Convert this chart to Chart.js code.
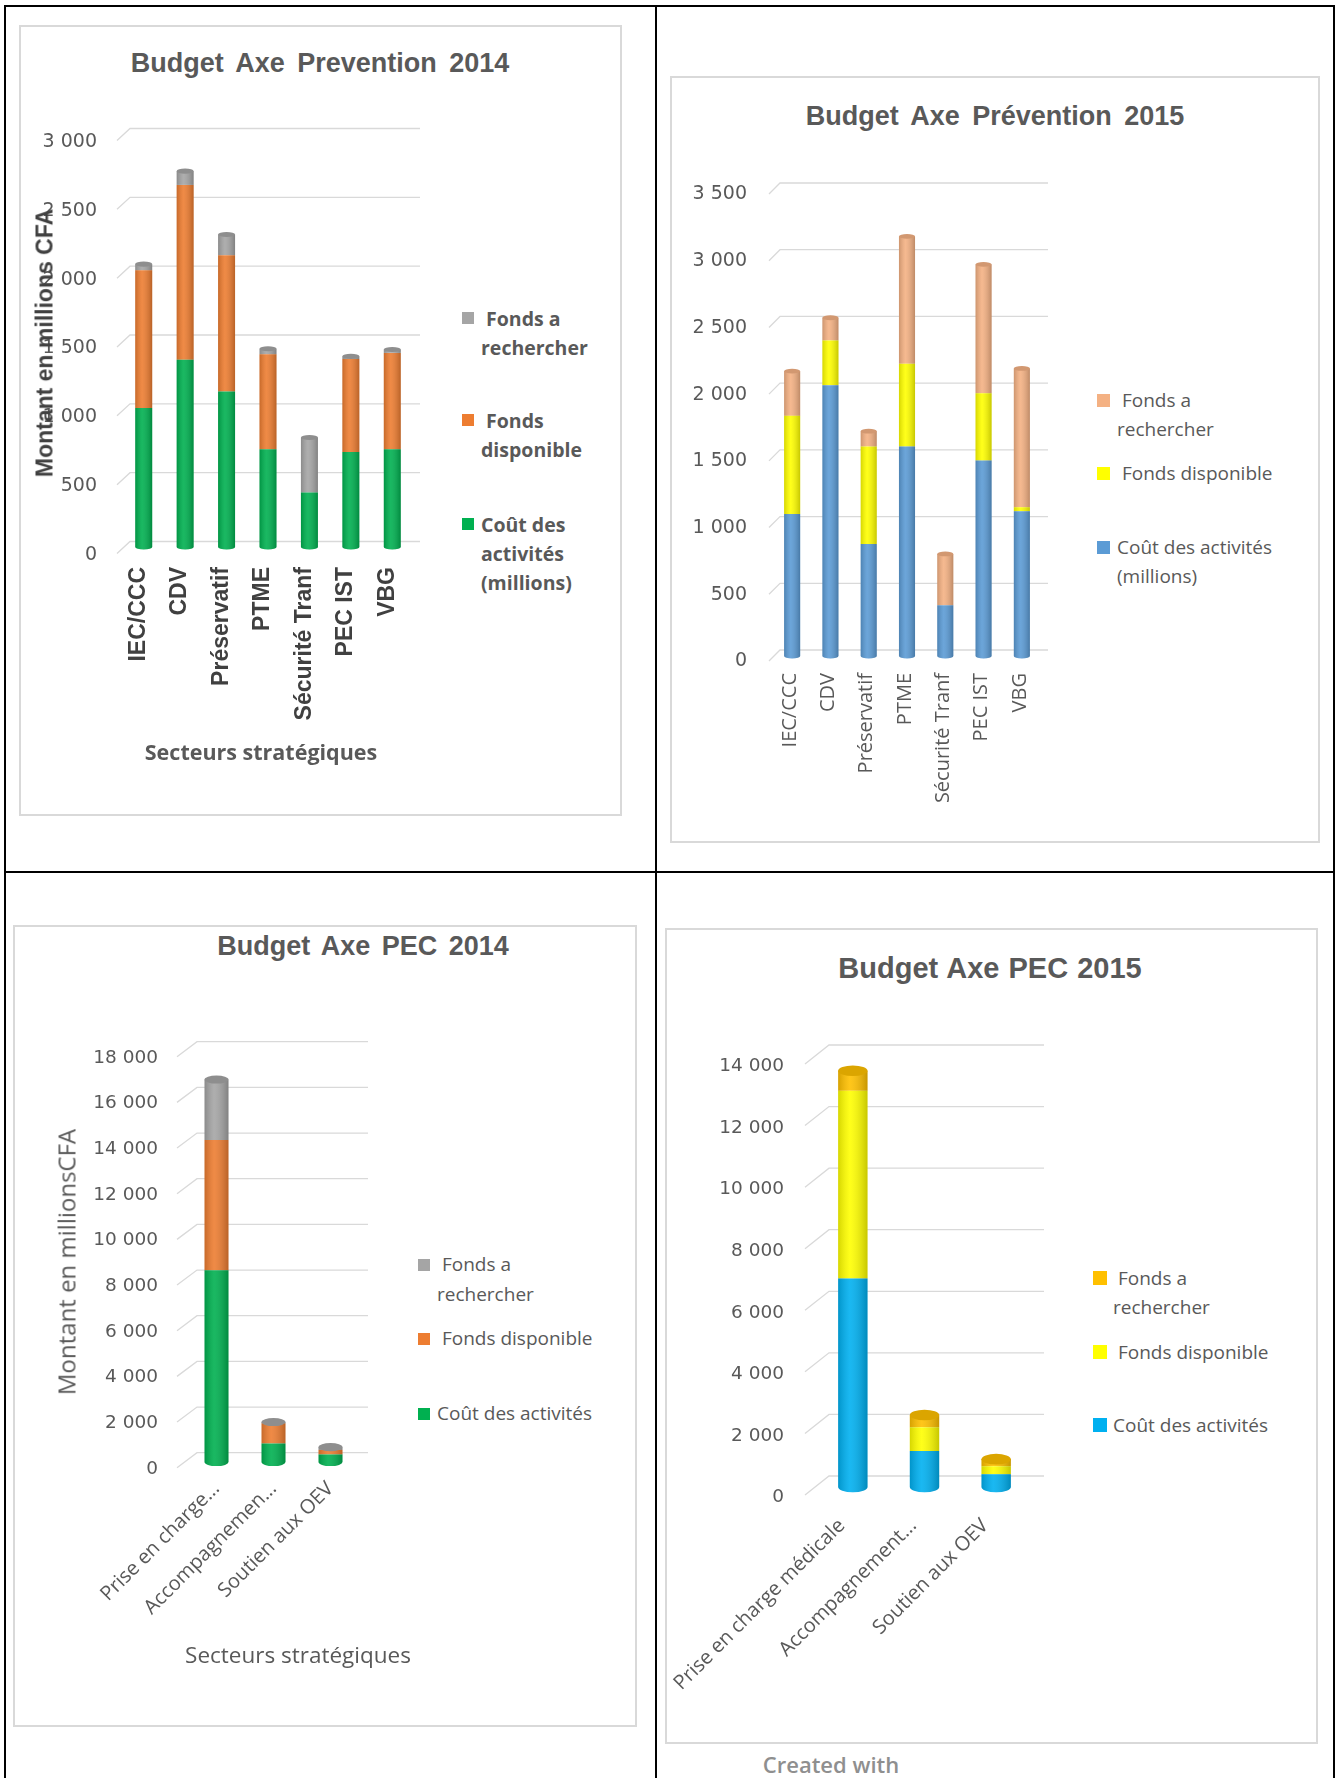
<!DOCTYPE html>
<html>
<head>
<meta charset="utf-8">
<script src="https://cdn.jsdelivr.net/npm/chart.js@4.4.1/dist/chart.umd.min.js"></script>
<style>
  body { margin: 0; width: 1340px; height: 1778px; background: #fff; position: relative; overflow: hidden;
         font-family: "Open Sans", sans-serif; color: #595959; }
  .rule { position: absolute; background: #000; }
  .box { position: absolute; border: 2px solid #d9d9d9; box-sizing: border-box; }
  canvas { position: absolute; }
  .txt { position: absolute; white-space: nowrap; z-index: 2; }
  .title { font-family: "Liberation Sans", Arial, sans-serif; font-weight: bold; color: #595959; transform: translate(-50%, -50%); }
  .vt { transform: translate(-50%, -50%) rotate(-90deg); }
  .ht { transform: translate(-50%, -50%); }
  .leg { position: absolute; white-space: pre; z-index: 2; color: #595959; }
  .leg i { position: absolute; left: 0; }
</style>
</head>
<body>
<script>
// categories
const prevCats = ["IEC/CCC", "CDV", "Préservatif", "PTME", "Sécurité Tranf", "PEC IST", "VBG"];
const pec14Cats = ["Prise en charge...", "Accompagnemen...", "Soutien aux OEV"];
const pec15Cats = ["Prise en charge médicale", "Accompagnement...", "Soutien aux OEV"];

// series names
const seriesPrev = ["Coût des activités (millions)", "Fonds disponible", "Fonds a rechercher"];
const seriesPec = ["Coût des activités", "Fonds disponible", "Fonds a rechercher"];

// Budget Axe Prevention 2014
const prev14Cout = [1010, 1360, 1130, 710, 395, 690, 710];
const prev14Dispo = [1000, 1270, 990, 690, 0, 675, 700];
const prev14Rech = [45, 100, 150, 40, 400, 20, 25];

// Budget Axe Prévention 2015
const prev15Cout = [1065, 2030, 840, 1570, 380, 1465, 1085];
const prev15Dispo = [735, 335, 730, 620, 0, 505, 30];
const prev15Rech = [335, 170, 115, 955, 385, 965, 1040];

// Budget Axe PEC 2014
const pec14Cout = [8400, 810, 330];
const pec14Dispo = [5700, 890, 200];
const pec14Rech = [2650, 50, 120];

// Budget Axe PEC 2015
const pec15Cout = [6770, 1170, 415];
const pec15Dispo = [6100, 770, 260];
const pec15Rech = [650, 400, 230];

// tick labels
const prev14Ticks = [0, 500, 1000, 1500, 2000, 2500, 3000];
const prev15Ticks = [0, 500, 1000, 1500, 2000, 2500, 3000, 3500];
const pec14Ticks = [0, 2000, 4000, 6000, 8000, 10000, 12000, 14000, 16000, 18000];
const pec15Ticks = [0, 2000, 4000, 6000, 8000, 10000, 12000, 14000];

const fmt = v => String(v).replace(/\B(?=(\d{3})+(?!\d))/g, " ");

const darker = (hex, f) => {
  const n = parseInt(hex.slice(1), 16);
  const r = Math.round(((n >> 16) & 255) * f), g = Math.round(((n >> 8) & 255) * f), b = Math.round((n & 255) * f);
  return `rgb(${r},${g},${b})`;
};

// page frame
const add = (cls, css, text) => {
  const d = document.createElement("div");
  d.className = cls;
  d.style.cssText = css;
  if (text) d.textContent = text;
  document.body.appendChild(d);
  return d;
};
add("rule", "left:4px;top:5px;width:1331px;height:2px");
add("rule", "left:4px;top:871px;width:1331px;height:2px");
add("rule", "left:4px;top:5px;width:2px;height:1773px");
add("rule", "left:655px;top:5px;width:2px;height:1773px");
add("rule", "left:1333px;top:5px;width:2px;height:1773px");

add("box", "left:19px;top:25px;width:603px;height:791px");
add("box", "left:670px;top:76px;width:650px;height:767px");
add("box", "left:13px;top:925px;width:624px;height:802px");
add("box", "left:665px;top:928px;width:653px;height:816px");

const shadeStops = g => {
  g.addColorStop(0, "rgba(0,0,0,0.16)");
  g.addColorStop(0.4, "rgba(255,255,255,0.10)");
  g.addColorStop(1, "rgba(0,0,0,0.22)");
  return g;
};

function drawChart(c) {
  const cv = document.createElement("canvas");
  cv.width = c.box.w;
  cv.height = c.box.h;
  cv.style.left = c.box.x + "px";
  cv.style.top = c.box.y + "px";
  document.body.appendChild(cv);

  // 3D look: back-wall gridlines, cylinder shading, rounded foot and top face
  const look = {
    id: "look",
    beforeDatasetsDraw(chart) {
      const { ctx, chartArea: a } = chart;
      const ys = chart.scales.y;
      ctx.save();
      ctx.strokeStyle = "#d9d9d9";
      ctx.lineWidth = 1.3;
      ys.ticks.forEach(t => {
        const py = ys.getPixelForValue(t.value) - c.grid.back;
        const x0 = a.left + c.grid.dx;
        ctx.beginPath();
        ctx.moveTo(x0 - c.grid.sx, py + c.grid.sy);
        ctx.lineTo(x0, py);
        ctx.lineTo(a.right + c.grid.dx, py);
        ctx.stroke();
      });
      ctx.restore();
    },
    afterDatasetsDraw(chart) {
      const ctx = chart.ctx;
      const metas = chart.data.datasets.map((d, i) => chart.getDatasetMeta(i));
      chart.data.labels.forEach((lab, i) => {
        let top = null, bottom = null;
        metas.forEach((m, di) => {
          const b = m.data[i].getProps(["x", "y", "base", "width"], true);
          if (Math.abs(b.base - b.y) < 0.3) return;
          if (!bottom) bottom = { b, di };
          top = { b, di };
          ctx.fillStyle = shadeStops(ctx.createLinearGradient(b.x - b.width / 2, 0, b.x + b.width / 2, 0));
          ctx.fillRect(b.x - b.width / 2, b.y, b.width, b.base - b.y);
        });
        if (!top) return;
        const rx = top.b.width / 2, ry = top.b.width * c.capRatio;
        const fb = bottom.b;
        ctx.beginPath();
        ctx.ellipse(fb.x, fb.base, rx, ry, 0, 0, Math.PI);
        ctx.fillStyle = c.colors[bottom.di];
        ctx.fill();
        ctx.fillStyle = shadeStops(ctx.createLinearGradient(fb.x - rx, 0, fb.x + rx, 0));
        ctx.fill();
        ctx.beginPath();
        ctx.ellipse(top.b.x, top.b.y, rx, ry, 0, 0, Math.PI * 2);
        ctx.fillStyle = darker(c.colors[top.di], 0.86);
        ctx.fill();
      });
    }
  };

  new Chart(cv, {
    type: "bar",
    data: {
      labels: c.cats,
      datasets: c.values.map((v, i) => ({
        label: c.series[i],
        data: v,
        backgroundColor: c.colors[i],
        borderWidth: 0,
        categoryPercentage: 1,
        barPercentage: c.barPct
      }))
    },
    options: {
      responsive: false,
      animation: false,
      layout: { padding: { top: 50, right: 40, left: 0, bottom: 0 } },
      plugins: { legend: { display: false }, tooltip: { enabled: false }, title: { display: false } },
      scales: {
        x: {
          stacked: true,
          grid: { display: false, drawTicks: false },
          border: { display: false },
          ticks: {
            autoSkip: false, minRotation: c.rot, maxRotation: c.rot,
            padding: c.xPad, labelOffset: c.xOff, color: c.xColor, font: c.xFont
          },
          afterFit: s => { s.height = c.xH; }
        },
        y: {
          stacked: true,
          min: c.ticks[0],
          max: c.ticks[c.ticks.length - 1],
          grid: { display: false, drawTicks: false },
          border: { display: false },
          afterBuildTicks: s => { s.ticks = c.ticks.map(v => ({ value: v })); },
          ticks: {
            padding: c.yPad, labelOffset: c.yOff, color: "#595959",
            font: { family: "DejaVu Sans", size: c.yFs },
            callback: v => fmt(v)
          },
          afterFit: s => { s.width = c.yW; }
        }
      }
    },
    plugins: [look]
  });

  const L = c.legend;
  [2, 1, 0].forEach(si => {
    const d = document.createElement("div");
    d.className = "leg";
    d.style.left = L.mx + "px";
    d.style.top = (L.cy[si] - L.lh / 2) + "px";
    d.style.lineHeight = L.lh + "px";
    d.style.fontSize = L.fs + "px";
    d.style.fontWeight = L.bold ? "700" : "400";
    d.style.paddingLeft = (L.tx - L.mx) + "px";
    d.textContent = L.lines[si].join("\n");
    const m = document.createElement("i");
    m.style.cssText = `width:${L.ms}px;height:${L.ms}px;top:${(L.lh - L.ms) / 2}px;background:${c.colors[si]}`;
    d.appendChild(m);
    document.body.appendChild(d);
  });
}

const greenSet = ["#00b050", "#ed7d31", "#a5a5a5"];

drawChart({
  cats: prevCats, series: seriesPrev, values: [prev14Cout, prev14Dispo, prev14Rech], ticks: prev14Ticks,
  colors: greenSet,
  box: { x: 19, y: 84, w: 434, h: 663 }, yW: 104, xH: 200, barPct: 0.41, capRatio: 0.15,
  yPad: 26, yOff: 8, yFs: 19,
  rot: 90, xPad: 20, xOff: -5, xColor: "#404040", xFont: { family: "Liberation Sans", size: 23, weight: "bold" },
  grid: { back: 5.5, dx: 7, sx: 13, sy: 12 },
  legend: { mx: 462, ms: 12, tx: 481, lh: 29, fs: 19.5, bold: true, cy: [524, 420, 318],
            lines: [["Coût des", "activités", "(millions)"], [" Fonds", "disponible"], [" Fonds a", "rechercher"]] }
});

drawChart({
  cats: prevCats, series: seriesPrev, values: [prev15Cout, prev15Dispo, prev15Rech], ticks: prev15Ticks,
  colors: ["#5b9bd5", "#ffff00", "#f4b183"],
  box: { x: 672, y: 139, w: 409, h: 692 }, yW: 101, xH: 175, barPct: 0.42, capRatio: 0.15,
  yPad: 26, yOff: 5.5, yFs: 19,
  rot: 90, xPad: 17, xOff: -2, xColor: "#595959", xFont: { family: "Open Sans", size: 20 },
  grid: { back: 6, dx: 7, sx: 11, sy: 11 },
  legend: { mx: 1097, ms: 13, tx: 1117, lh: 29, fs: 19, bold: false, cy: [547, 473, 400],
            lines: [["Coût des activités", "(millions)"], [" Fonds disponible"], [" Fonds a", "rechercher"]] }
});

drawChart({
  cats: pec14Cats, series: seriesPec, values: [pec14Cout, pec14Dispo, pec14Rech], ticks: pec14Ticks,
  colors: greenSet,
  box: { x: 16, y: 1001, w: 383, h: 681 }, yW: 172, xH: 220, barPct: 0.42, capRatio: 0.17,
  yPad: 30, yOff: 7, yFs: 18.5,
  rot: 45, xPad: 15, xOff: 0, xColor: "#595959", xFont: { family: "Open Sans", size: 20 },
  grid: { back: 9.3, dx: 9, sx: 20, sy: 15 },
  legend: { mx: 418, ms: 12, tx: 437, lh: 29.5, fs: 19, bold: false, cy: [1414, 1339, 1265],
            lines: [["Coût des activités"], [" Fonds disponible"], [" Fonds a", "rechercher"]] }
});

drawChart({
  cats: pec15Cats, series: seriesPec, values: [pec15Cout, pec15Dispo, pec15Rech], ticks: pec15Ticks,
  colors: ["#00b0f0", "#ffff00", "#ffc000"],
  box: { x: 630, y: 1006, w: 442, h: 721 }, yW: 187, xH: 240, barPct: 0.41, capRatio: 0.18,
  yPad: 33, yOff: 10.5, yFs: 18.5,
  rot: 45, xPad: 27, xOff: -11, xColor: "#595959", xFont: { family: "Open Sans", size: 20 },
  grid: { back: 11, dx: 12, sx: 24, sy: 19 },
  legend: { mx: 1093, ms: 14, tx: 1113, lh: 29, fs: 19, bold: false, cy: [1425, 1352, 1278],
            lines: [["Coût des activités"], [" Fonds disponible"], [" Fonds a", "rechercher"]] }
});

// titles and axis titles
add("txt title", "left:320px;top:63px;font-size:27px;word-spacing:5px", "Budget Axe Prevention 2014");
add("txt title", "left:995px;top:116px;font-size:27px;word-spacing:5px", "Budget Axe Prévention 2015");
add("txt title", "left:363px;top:946px;font-size:27px;word-spacing:4px", "Budget Axe PEC 2014");
add("txt title", "left:990px;top:968px;font-size:29px;word-spacing:1px", "Budget Axe PEC 2015");

add("txt vt", "left:45px;top:343px;font-family:'Liberation Sans',Arial,sans-serif;font-weight:bold;font-size:23px;color:#404040", "Montant en millions CFA");
add("txt ht", "left:261px;top:751px;font-weight:700;font-size:21.5px", "Secteurs stratégiques");
add("txt vt", "left:66px;top:1262px;font-size:24px", "Montant en millionsCFA");
add("txt ht", "left:298px;top:1654px;font-size:22.5px", "Secteurs stratégiques");
add("txt ht", "left:831px;top:1764px;font-size:22px;font-weight:600;color:#8f8f8f", "Created with");
</script>
</body>
</html>
